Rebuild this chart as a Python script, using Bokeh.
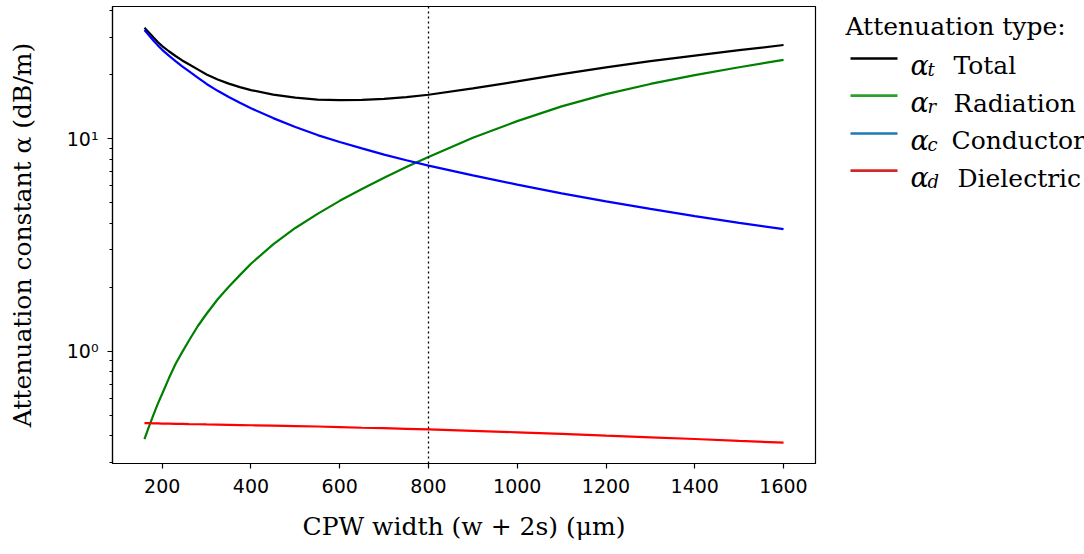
from bokeh.plotting import figure
from bokeh.layouts import row
from bokeh.models import Range1d, FixedTicker, Span, Label
from bokeh.embed import file_html
from bokeh.resources import INLINE

# CPW width (w + 2s) in micrometres
width_um = [160, 170, 180, 190, 200, 215, 230, 245, 260, 280, 300, 325, 350, 375,
            400, 450, 500, 550, 600, 650, 700, 750, 800, 900, 1000, 1100, 1200,
            1300, 1400, 1500, 1600]

# attenuation constants in dB/m
alpha_total = [33.3, 31.6, 30.0, 28.5, 27.3, 25.8, 24.5, 23.35, 22.4, 21.2, 20.05,
               19.0, 18.16, 17.48, 16.93, 16.13, 15.6, 15.27, 15.19, 15.24, 15.4,
               15.7, 16.1, 17.24, 18.6, 20.14, 21.67, 23.16, 24.6, 26.1, 27.6]
alpha_radiation = [0.385, 0.44, 0.50, 0.565, 0.63, 0.745, 0.87, 0.99, 1.12, 1.31,
                   1.50, 1.755, 2.01, 2.28, 2.58, 3.18, 3.8, 4.43, 5.1, 5.8, 6.55,
                   7.35, 8.2, 10.1, 12.1, 14.2, 16.2, 18.1, 19.9, 21.7, 23.5]
alpha_conductor = [32.5, 30.7, 29.0, 27.5, 26.2, 24.6, 23.2, 21.9, 20.8, 19.4, 18.1,
                   16.8, 15.7, 14.75, 13.9, 12.5, 11.35, 10.4, 9.65, 9.0, 8.42,
                   7.92, 7.47, 6.72, 6.08, 5.53, 5.07, 4.67, 4.32, 4.02, 3.75]
alpha_dielectric = [0.458, 0.458, 0.457, 0.457, 0.456, 0.456, 0.455, 0.455, 0.454,
                    0.453, 0.452, 0.451, 0.450, 0.449, 0.448, 0.446, 0.444, 0.442,
                    0.439, 0.436, 0.434, 0.431, 0.428, 0.422, 0.415, 0.408, 0.400,
                    0.393, 0.386, 0.378, 0.371]

chosen_width = 800

x_ticks = [200, 400, 600, 800, 1000, 1200, 1400, 1600]
y_ticks = [1, 10]
y_tick_labels = {1: "10\u2070", 10: "10\u00b9"}
y_minor_ticks = [0.3, 0.4, 0.5, 0.6, 0.7, 0.8, 0.9,
                 2, 3, 4, 5, 6, 7, 8, 9, 20, 30, 40]

legend_title = "Attenuation type:"
legend_subs = ["t", "r", "c", "d"]
legend_names = ["Total", "Radiation", "Conductor", "Dielectric"]
legend_colors = ["#000000", "#2ca02c", "#1f77b4", "#d62728"]

SERIF = "DejaVu Serif"
SANS = "DejaVu Sans"

p = figure(width=830, height=554, y_axis_type="log",
           x_range=Range1d(88, 1672), y_range=Range1d(0.296, 41.9),
           output_backend="svg", toolbar_location=None,
           min_border_left=112, min_border_right=15,
           min_border_top=6, min_border_bottom=91)

p.xgrid.visible = False
p.ygrid.visible = False
p.outline_line_color = "black"
p.outline_line_width = 1.2
p.outline_line_alpha = 1.0
p.background_fill_color = "white"
p.border_fill_color = "white"

p.line(width_um, alpha_total, line_color="black", line_width=2.2)
p.line(width_um, alpha_radiation, line_color="#008000", line_width=2.2)
p.line(width_um, alpha_conductor, line_color="#0000ff", line_width=2.2)
p.line(width_um, alpha_dielectric, line_color="#ff0000", line_width=2.2)

p.add_layout(Span(location=chosen_width, dimension="height", line_color="black",
                  line_width=1.3, line_dash="2 3"))

p.xaxis.ticker = FixedTicker(ticks=x_ticks, minor_ticks=[])
p.yaxis.ticker = FixedTicker(ticks=y_ticks, minor_ticks=y_minor_ticks)
p.yaxis.major_label_overrides = y_tick_labels

for ax in (p.xaxis[0], p.yaxis[0]):
    ax.axis_line_color = "black"
    ax.axis_line_width = 1.2
    ax.major_tick_line_color = "black"
    ax.major_tick_line_width = 1.2
    ax.minor_tick_line_color = "black"
    ax.minor_tick_line_width = 1.0
    ax.major_tick_in = 0
    ax.major_tick_out = 5
    ax.minor_tick_in = 0
    ax.minor_tick_out = 3
    ax.major_label_text_font = SANS
    ax.major_label_text_font_size = "19px"
    ax.major_label_text_color = "black"
    ax.axis_label_text_font = SERIF
    ax.axis_label_text_font_size = "25px"
    ax.axis_label_text_font_style = "normal"
    ax.axis_label_text_color = "black"

p.xaxis.axis_label = "CPW width (w + 2s) (\u03bcm)"
p.yaxis.axis_label = "Attenuation constant \u03b1 (dB/m)"
p.xaxis.major_label_standoff = 10
p.yaxis.major_label_standoff = 9
p.xaxis.axis_label_standoff = 16
p.yaxis.axis_label_standoff = 27

# legend panel on the right
leg = figure(width=254, height=554, x_range=Range1d(0, 254), y_range=Range1d(554, 0),
             output_backend="svg", toolbar_location=None,
             x_axis_location=None, y_axis_location=None,
             min_border=0, outline_line_color=None)
leg.xgrid.visible = False
leg.ygrid.visible = False
leg.background_fill_color = "white"
leg.border_fill_color = "white"

leg.add_layout(Label(x=15, y=24, text=legend_title, text_font=SERIF,
                     text_font_size="25px", text_baseline="alphabetic",
                     text_color="black"))

row_y = [63, 108, 154, 199]
name_x = [123, 123, 121, 127]
for yy, sub, name, col, nx in zip(row_y, legend_subs, legend_names, legend_colors, name_x):
    leg.line([20, 67], [yy, yy], line_color=col, line_width=2.6)
    leg.add_layout(Label(x=80, y=yy + 8, text="\u03b1", text_font=SERIF,
                         text_font_style="italic", text_font_size="27px",
                         text_baseline="alphabetic", text_color="black"))
    leg.add_layout(Label(x=97, y=yy + 13, text=sub, text_font=SERIF,
                         text_font_style="italic", text_font_size="18px",
                         text_baseline="alphabetic", text_color="black"))
    leg.add_layout(Label(x=nx, y=yy + 9, text=name, text_font=SERIF,
                         text_font_size="25px", text_baseline="alphabetic",
                         text_color="black"))

layout = row(p, leg)
open("out.html", "w").write(file_html(layout, INLINE))
